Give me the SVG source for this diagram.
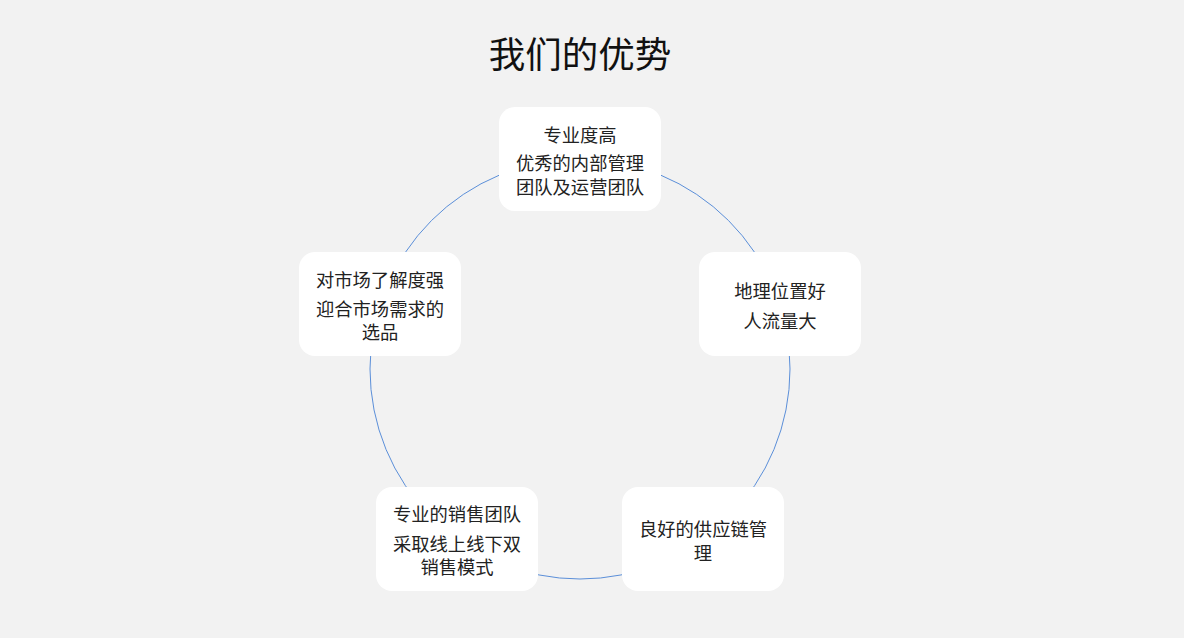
<svg xmlns="http://www.w3.org/2000/svg" width="1184" height="638" viewBox="0 0 1184 638">
<style>
.bg{fill:#f2f2f2}
.node{fill:#ffffff}
.t{font-family:"Noto Sans CJK SC","Noto Sans",sans-serif;font-size:18.3px;fill:#222;text-anchor:middle;dominant-baseline:central}
.title{font-family:"Noto Sans CJK SC","Noto Sans",sans-serif;font-size:36.5px;fill:#111;text-anchor:middle;dominant-baseline:central}
.conn{fill:none;stroke:#5b8fd9;stroke-width:1}
</style>
<rect class="bg" x="0" y="0" width="1184" height="638"/>
<text class="title" x="580" y="52">我们的优势</text>
<g id="connectors">
<circle class="conn" cx="580" cy="369" r="210"/>
</g>
<g id="node-top">
<rect class="node" x="499" y="107" width="162" height="104" rx="16"/>
<text class="t" x="580" y="134">专业度高</text>
<text class="t" x="580" y="162">优秀的内部管理</text>
<text class="t" x="580" y="186">团队及运营团队</text>
</g>
<g id="node-right">
<rect class="node" x="699" y="252" width="162" height="104" rx="16"/>
<text class="t" x="780" y="290">地理位置好</text>
<text class="t" x="780" y="320">人流量大</text>
</g>
<g id="node-left">
<rect class="node" x="299" y="252" width="162" height="104" rx="16"/>
<text class="t" x="380" y="279">对市场了解度强</text>
<text class="t" x="380" y="308">迎合市场需求的</text>
<text class="t" x="380" y="331">选品</text>
</g>
<g id="node-bottom-left">
<rect class="node" x="376" y="487" width="162" height="104" rx="16"/>
<text class="t" x="457" y="513">专业的销售团队</text>
<text class="t" x="457" y="543">采取线上线下双</text>
<text class="t" x="457" y="566">销售模式</text>
</g>
<g id="node-bottom-right">
<rect class="node" x="622" y="487" width="162" height="104" rx="16"/>
<text class="t" x="703" y="528">良好的供应链管</text>
<text class="t" x="703" y="552">理</text>
</g>
</svg>
